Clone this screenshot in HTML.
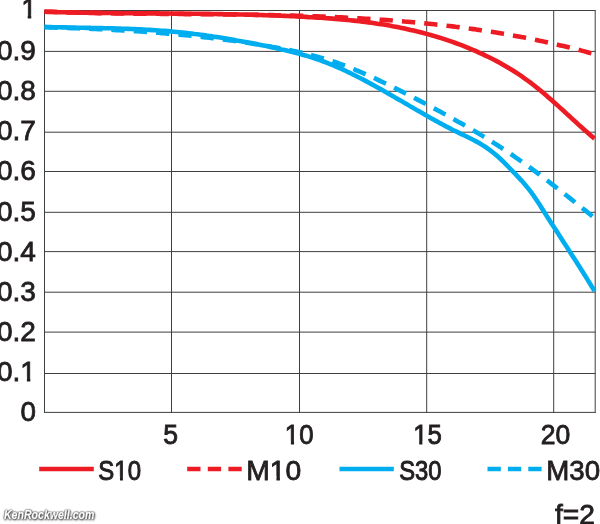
<!DOCTYPE html>
<html><head><meta charset="utf-8"><title>MTF f=2</title>
<style>
html,body{margin:0;padding:0;background:#fff;}
body{width:600px;height:524px;overflow:hidden;position:relative;}
svg{display:block;position:absolute;left:0;top:0;}
text{font-family:"Liberation Sans",sans-serif;font-size:28px;fill:#231f20;stroke:#231f20;}
.wm{position:absolute;left:3.5px;top:507px;font:italic bold 12.8px/16px "Liberation Sans",sans-serif;color:#fff;transform-origin:0 0;transform:scaleX(0.825);-webkit-text-stroke:0.3px #fff;
text-shadow:0 0 1px #222,0 0 1px #333,0 0 1.5px #444,0 0 2px #555,0.6px 0.8px 2px #555,1px 1px 3px #888;white-space:nowrap;}
</style></head><body>
<svg width="600" height="524" viewBox="0 0 600 524">
<defs><clipPath id="nofoot"><path d="M-5 -30H20V-3.2H10V2H6.55V-3.2H-5Z"/></clipPath></defs>
<g stroke="#3f3f3f" stroke-width="1" fill="none">
<line x1="44" y1="10.5" x2="595.5" y2="10.5"/>
<line x1="44" y1="51.4" x2="595.5" y2="51.4"/>
<line x1="44" y1="91.3" x2="595.5" y2="91.3"/>
<line x1="44" y1="132.2" x2="595.5" y2="132.2"/>
<line x1="44" y1="171.5" x2="595.5" y2="171.5"/>
<line x1="44" y1="212.3" x2="595.5" y2="212.3"/>
<line x1="44" y1="251.6" x2="595.5" y2="251.6"/>
<line x1="44" y1="292.2" x2="595.5" y2="292.2"/>
<line x1="44" y1="332.1" x2="595.5" y2="332.1"/>
<line x1="44" y1="373.5" x2="595.5" y2="373.5"/>
<line x1="44" y1="412.4" x2="595.5" y2="412.4"/>
<line x1="44.5" y1="10" x2="44.5" y2="413"/>
<line x1="171.5" y1="10" x2="171.5" y2="413"/>
<line x1="299.5" y1="10" x2="299.5" y2="413"/>
<line x1="426.7" y1="10" x2="426.7" y2="413"/>
<line x1="553.7" y1="10" x2="553.7" y2="413"/>
<line x1="595.2" y1="10" x2="595.2" y2="413"/>
</g>
<g fill="none" stroke-width="4.6" stroke-linejoin="round">
<path stroke="#00aeef" stroke-dasharray="13.3 9.08" stroke-dashoffset="0.15" d="M44.5 27.3 L47.5 27.3 L50.5 27.4 L53.5 27.5 L56.5 27.6 L59.5 27.7 L62.5 27.8 L65.5 27.9 L68.5 28.0 L71.5 28.1 L74.5 28.2 L77.5 28.3 L80.5 28.4 L83.5 28.5 L86.5 28.6 L89.5 28.8 L92.5 28.9 L95.5 29.0 L98.5 29.2 L101.5 29.3 L104.5 29.4 L107.5 29.6 L110.5 29.7 L113.5 29.9 L116.5 30.1 L119.5 30.2 L122.5 30.4 L125.5 30.6 L128.5 30.8 L131.5 30.9 L134.5 31.1 L137.5 31.3 L140.5 31.5 L143.5 31.7 L146.5 31.9 L149.5 32.2 L152.5 32.4 L155.5 32.6 L158.5 32.8 L161.5 33.1 L164.5 33.3 L167.5 33.6 L170.5 33.8 L173.5 34.1 L176.5 34.4 L179.5 34.6 L182.5 34.9 L185.5 35.2 L188.5 35.5 L191.5 35.8 L194.5 36.1 L197.5 36.4 L200.5 36.7 L203.5 37.1 L206.5 37.4 L209.5 37.8 L212.5 38.1 L215.5 38.5 L218.5 38.8 L221.5 39.2 L224.5 39.6 L227.5 40.0 L230.5 40.4 L233.5 40.8 L236.5 41.2 L239.5 41.6 L242.5 42.1 L245.5 42.5 L248.5 42.9 L251.5 43.4 L254.5 43.9 L257.5 44.3 L260.5 44.8 L263.5 45.3 L266.5 45.8 L269.5 46.3 L272.5 46.9 L275.5 47.4 L278.5 47.9 L281.5 48.5 L284.5 49.1 L287.5 49.7 L290.5 50.3 L293.5 50.9 L296.5 51.6 L299.5 52.2 L302.5 52.9 L305.5 53.6 L308.5 54.4 L311.5 55.1 L314.5 55.9 L317.5 56.7 L320.5 57.6 L323.5 58.5 L326.5 59.4 L329.5 60.3 L332.5 61.3 L335.5 62.3 L338.5 63.3 L341.5 64.4 L344.5 65.5 L347.5 66.6 L350.5 67.8 L353.5 69.0 L356.5 70.3 L359.5 71.5 L362.5 72.8 L365.5 74.1 L368.5 75.5 L371.5 76.8 L374.5 78.2 L377.5 79.6 L380.5 81.1 L383.5 82.5 L386.5 83.9 L389.5 85.4 L392.5 86.9 L395.5 88.4 L398.5 89.9 L401.5 91.4 L404.5 92.9 L407.5 94.4 L410.5 96.0 L413.5 97.5 L416.5 99.1 L419.5 100.6 L422.5 102.2 L425.5 103.8 L428.5 105.4 L431.5 107.0 L434.5 108.6 L437.5 110.2 L440.5 111.8 L443.5 113.5 L446.5 115.1 L449.5 116.8 L452.5 118.5 L455.5 120.2 L458.5 121.9 L461.5 123.6 L464.5 125.3 L467.5 127.0 L470.5 128.8 L473.5 130.5 L476.5 132.3 L479.5 134.1 L482.5 135.9 L485.5 137.8 L488.5 139.6 L491.5 141.5 L494.5 143.4 L497.5 145.3 L500.5 147.2 L503.5 149.2 L506.5 151.2 L509.5 153.2 L512.5 155.2 L515.5 157.3 L518.5 159.3 L521.5 161.5 L524.5 163.6 L527.5 165.8 L530.5 167.9 L533.5 170.1 L536.5 172.4 L539.5 174.6 L542.5 176.9 L545.5 179.2 L548.5 181.5 L551.5 183.8 L554.5 186.1 L557.5 188.5 L560.5 190.8 L563.5 193.2 L566.5 195.5 L569.5 197.9 L572.5 200.3 L575.5 202.7 L578.5 205.1 L581.5 207.5 L584.5 209.9 L587.5 212.3 L590.5 214.7 L593.5 217.1 L594.5 217.9"/>
<path stroke="#00aeef" d="M44.5 26.9 L47.5 27.0 L50.5 27.1 L53.5 27.2 L56.5 27.2 L59.5 27.3 L62.5 27.4 L65.5 27.4 L68.5 27.5 L71.5 27.6 L74.5 27.6 L77.5 27.7 L80.5 27.7 L83.5 27.8 L86.5 27.9 L89.5 27.9 L92.5 28.0 L95.5 28.0 L98.5 28.1 L101.5 28.1 L104.5 28.2 L107.5 28.3 L110.5 28.3 L113.5 28.4 L116.5 28.5 L119.5 28.6 L122.5 28.7 L125.5 28.8 L128.5 28.9 L131.5 29.0 L134.5 29.1 L137.5 29.3 L140.5 29.4 L143.5 29.5 L146.5 29.7 L149.5 29.9 L152.5 30.1 L155.5 30.3 L158.5 30.5 L161.5 30.7 L164.5 30.9 L167.5 31.1 L170.5 31.4 L173.5 31.7 L176.5 32.0 L179.5 32.3 L182.5 32.6 L185.5 32.9 L188.5 33.2 L191.5 33.6 L194.5 34.0 L197.5 34.3 L200.5 34.7 L203.5 35.1 L206.5 35.6 L209.5 36.0 L212.5 36.4 L215.5 36.9 L218.5 37.3 L221.5 37.8 L224.5 38.3 L227.5 38.8 L230.5 39.3 L233.5 39.8 L236.5 40.4 L239.5 40.9 L242.5 41.4 L245.5 42.0 L248.5 42.6 L251.5 43.1 L254.5 43.7 L257.5 44.3 L260.5 44.9 L263.5 45.5 L266.5 46.1 L269.5 46.7 L272.5 47.4 L275.5 48.0 L278.5 48.7 L281.5 49.4 L284.5 50.0 L287.5 50.8 L290.5 51.5 L293.5 52.2 L296.5 53.0 L299.5 53.8 L302.5 54.7 L305.5 55.5 L308.5 56.4 L311.5 57.4 L314.5 58.3 L317.5 59.4 L320.5 60.4 L323.5 61.5 L326.5 62.6 L329.5 63.8 L332.5 65.0 L335.5 66.3 L338.5 67.6 L341.5 69.0 L344.5 70.3 L347.5 71.8 L350.5 73.2 L353.5 74.7 L356.5 76.2 L359.5 77.7 L362.5 79.3 L365.5 80.9 L368.5 82.5 L371.5 84.1 L374.5 85.7 L377.5 87.4 L380.5 89.1 L383.5 90.8 L386.5 92.5 L389.5 94.2 L392.5 95.9 L395.5 97.7 L398.5 99.4 L401.5 101.1 L404.5 102.9 L407.5 104.6 L410.5 106.4 L413.5 108.1 L416.5 109.9 L419.5 111.6 L422.5 113.3 L425.5 115.0 L428.5 116.7 L431.5 118.4 L434.5 120.1 L437.5 121.7 L440.5 123.4 L443.5 125.0 L446.5 126.6 L449.5 128.1 L452.5 129.7 L455.5 131.2 L458.5 132.6 L461.5 134.1 L464.5 135.5 L467.5 137.0 L470.5 138.5 L473.5 140.0 L476.5 141.6 L479.5 143.3 L482.5 145.1 L485.5 147.0 L488.5 149.1 L491.5 151.3 L494.5 153.7 L497.5 156.3 L500.5 159.0 L503.5 161.9 L506.5 164.9 L509.5 168.0 L512.5 171.1 L515.5 174.2 L518.5 177.4 L521.5 180.6 L524.5 184.0 L527.5 187.6 L530.5 191.4 L533.5 195.5 L536.5 200.0 L539.5 204.6 L542.5 209.3 L545.5 214.1 L548.5 218.8 L551.5 223.4 L554.5 228.0 L557.5 232.6 L560.5 237.2 L563.5 241.9 L566.5 246.5 L569.5 251.2 L572.5 255.9 L575.5 260.6 L578.5 265.3 L581.5 270.0 L584.5 274.8 L587.5 279.6 L590.5 284.5 L593.5 289.4 L594.5 291.0"/>
<path stroke="#ed1c24" stroke-dasharray="13.3 9.1" stroke-dashoffset="0.75" d="M44.5 11.6 L47.5 11.7 L50.5 11.8 L53.5 11.9 L56.5 12.0 L59.5 12.1 L62.5 12.2 L65.5 12.3 L68.5 12.4 L71.5 12.4 L74.5 12.5 L77.5 12.6 L80.5 12.7 L83.5 12.8 L86.5 12.8 L89.5 12.9 L92.5 12.9 L95.5 13.0 L98.5 13.1 L101.5 13.1 L104.5 13.2 L107.5 13.2 L110.5 13.3 L113.5 13.3 L116.5 13.4 L119.5 13.4 L122.5 13.5 L125.5 13.5 L128.5 13.5 L131.5 13.6 L134.5 13.6 L137.5 13.6 L140.5 13.7 L143.5 13.7 L146.5 13.7 L149.5 13.8 L152.5 13.8 L155.5 13.8 L158.5 13.8 L161.5 13.9 L164.5 13.9 L167.5 13.9 L170.5 13.9 L173.5 14.0 L176.5 14.0 L179.5 14.0 L182.5 14.0 L185.5 14.1 L188.5 14.1 L191.5 14.1 L194.5 14.1 L197.5 14.2 L200.5 14.2 L203.5 14.2 L206.5 14.2 L209.5 14.3 L212.5 14.3 L215.5 14.3 L218.5 14.4 L221.5 14.4 L224.5 14.4 L227.5 14.5 L230.5 14.5 L233.5 14.5 L236.5 14.6 L239.5 14.6 L242.5 14.6 L245.5 14.7 L248.5 14.7 L251.5 14.8 L254.5 14.8 L257.5 14.9 L260.5 14.9 L263.5 15.0 L266.5 15.0 L269.5 15.1 L272.5 15.1 L275.5 15.2 L278.5 15.3 L281.5 15.3 L284.5 15.4 L287.5 15.5 L290.5 15.6 L293.5 15.6 L296.5 15.7 L299.5 15.8 L302.5 15.9 L305.5 16.0 L308.5 16.1 L311.5 16.2 L314.5 16.3 L317.5 16.4 L320.5 16.5 L323.5 16.6 L326.5 16.7 L329.5 16.9 L332.5 17.0 L335.5 17.1 L338.5 17.3 L341.5 17.4 L344.5 17.5 L347.5 17.7 L350.5 17.8 L353.5 18.0 L356.5 18.2 L359.5 18.3 L362.5 18.5 L365.5 18.7 L368.5 18.9 L371.5 19.1 L374.5 19.2 L377.5 19.4 L380.5 19.7 L383.5 19.9 L386.5 20.1 L389.5 20.3 L392.5 20.5 L395.5 20.8 L398.5 21.0 L401.5 21.2 L404.5 21.5 L407.5 21.7 L410.5 22.0 L413.5 22.3 L416.5 22.5 L419.5 22.8 L422.5 23.1 L425.5 23.4 L428.5 23.7 L431.5 24.0 L434.5 24.3 L437.5 24.7 L440.5 25.0 L443.5 25.3 L446.5 25.7 L449.5 26.0 L452.5 26.4 L455.5 26.8 L458.5 27.1 L461.5 27.5 L464.5 27.9 L467.5 28.3 L470.5 28.7 L473.5 29.1 L476.5 29.6 L479.5 30.0 L482.5 30.5 L485.5 30.9 L488.5 31.4 L491.5 31.8 L494.5 32.3 L497.5 32.8 L500.5 33.3 L503.5 33.8 L506.5 34.3 L509.5 34.8 L512.5 35.4 L515.5 35.9 L518.5 36.5 L521.5 37.1 L524.5 37.6 L527.5 38.2 L530.5 38.8 L533.5 39.4 L536.5 40.0 L539.5 40.7 L542.5 41.3 L545.5 41.9 L548.5 42.6 L551.5 43.3 L554.5 44.0 L557.5 44.7 L560.5 45.4 L563.5 46.1 L566.5 46.8 L569.5 47.5 L572.5 48.3 L575.5 49.1 L578.5 49.8 L581.5 50.6 L584.5 51.4 L587.5 52.2 L590.5 53.1 L593.5 53.9 L594.5 54.2"/>
<path stroke="#ed1c24" d="M44.5 11.8 L47.5 11.9 L50.5 11.9 L53.5 12.0 L56.5 12.1 L59.5 12.2 L62.5 12.3 L65.5 12.3 L68.5 12.4 L71.5 12.5 L74.5 12.5 L77.5 12.6 L80.5 12.6 L83.5 12.7 L86.5 12.7 L89.5 12.8 L92.5 12.8 L95.5 12.9 L98.5 12.9 L101.5 12.9 L104.5 13.0 L107.5 13.0 L110.5 13.0 L113.5 13.1 L116.5 13.1 L119.5 13.1 L122.5 13.2 L125.5 13.2 L128.5 13.2 L131.5 13.2 L134.5 13.3 L137.5 13.3 L140.5 13.3 L143.5 13.3 L146.5 13.4 L149.5 13.4 L152.5 13.4 L155.5 13.4 L158.5 13.4 L161.5 13.5 L164.5 13.5 L167.5 13.5 L170.5 13.5 L173.5 13.6 L176.5 13.6 L179.5 13.6 L182.5 13.6 L185.5 13.7 L188.5 13.7 L191.5 13.7 L194.5 13.8 L197.5 13.8 L200.5 13.8 L203.5 13.9 L206.5 13.9 L209.5 13.9 L212.5 14.0 L215.5 14.0 L218.5 14.1 L221.5 14.1 L224.5 14.2 L227.5 14.2 L230.5 14.3 L233.5 14.4 L236.5 14.4 L239.5 14.5 L242.5 14.5 L245.5 14.6 L248.5 14.7 L251.5 14.8 L254.5 14.9 L257.5 14.9 L260.5 15.0 L263.5 15.1 L266.5 15.2 L269.5 15.3 L272.5 15.4 L275.5 15.5 L278.5 15.6 L281.5 15.8 L284.5 15.9 L287.5 16.0 L290.5 16.1 L293.5 16.3 L296.5 16.4 L299.5 16.6 L302.5 16.7 L305.5 16.9 L308.5 17.1 L311.5 17.2 L314.5 17.4 L317.5 17.6 L320.5 17.8 L323.5 18.0 L326.5 18.2 L329.5 18.4 L332.5 18.6 L335.5 18.9 L338.5 19.1 L341.5 19.4 L344.5 19.7 L347.5 20.0 L350.5 20.3 L353.5 20.6 L356.5 20.9 L359.5 21.3 L362.5 21.6 L365.5 22.0 L368.5 22.4 L371.5 22.8 L374.5 23.2 L377.5 23.7 L380.5 24.1 L383.5 24.6 L386.5 25.1 L389.5 25.6 L392.5 26.2 L395.5 26.7 L398.5 27.3 L401.5 27.9 L404.5 28.5 L407.5 29.2 L410.5 29.9 L413.5 30.5 L416.5 31.3 L419.5 32.0 L422.5 32.8 L425.5 33.6 L428.5 34.4 L431.5 35.2 L434.5 36.1 L437.5 37.0 L440.5 37.9 L443.5 38.9 L446.5 39.9 L449.5 40.9 L452.5 41.9 L455.5 43.0 L458.5 44.1 L461.5 45.2 L464.5 46.4 L467.5 47.6 L470.5 48.9 L473.5 50.1 L476.5 51.4 L479.5 52.8 L482.5 54.1 L485.5 55.6 L488.5 57.0 L491.5 58.5 L494.5 60.0 L497.5 61.6 L500.5 63.3 L503.5 65.0 L506.5 66.7 L509.5 68.5 L512.5 70.3 L515.5 72.2 L518.5 74.2 L521.5 76.2 L524.5 78.3 L527.5 80.5 L530.5 82.7 L533.5 85.0 L536.5 87.3 L539.5 89.7 L542.5 92.2 L545.5 94.8 L548.5 97.4 L551.5 100.0 L554.5 102.7 L557.5 105.4 L560.5 108.1 L563.5 110.8 L566.5 113.6 L569.5 116.3 L572.5 119.1 L575.5 121.8 L578.5 124.6 L581.5 127.3 L584.5 130.0 L587.5 132.6 L590.5 135.2 L593.5 137.8 L594.5 138.6"/>
</g><g fill="none" stroke-width="4.6">
<path stroke="#ed1c24" d="M39.2 469H93.8"/>
<path stroke="#ed1c24" stroke-dasharray="13.3 7.3" d="M187.2 469H241.8"/>
<path stroke="#00aeef" d="M339.5 469H393.8"/>
<path stroke="#00aeef" stroke-dasharray="13.3 7.1" d="M487.5 469H542"/>
</g>
<text transform="translate(21.20,18.3) scale(1.0000,1)" stroke-width="0.80" clip-path="url(#nofoot)">1</text>
<text transform="translate(-3.00,59.8) scale(1.0000,1)" stroke-width="0.80">0.9</text>
<text transform="translate(-3.00,99.5) scale(1.0000,1)" stroke-width="0.80">0.8</text>
<text transform="translate(-3.00,139.9) scale(1.0000,1)" stroke-width="0.80">0.7</text>
<text transform="translate(-3.00,180.3) scale(1.0000,1)" stroke-width="0.80">0.6</text>
<text transform="translate(-3.00,220.6) scale(1.0000,1)" stroke-width="0.80">0.5</text>
<text transform="translate(-3.00,260.6) scale(1.0000,1)" stroke-width="0.80">0.4</text>
<text transform="translate(-3.00,300.6) scale(1.0000,1)" stroke-width="0.80">0.3</text>
<text transform="translate(-3.00,340.6) scale(1.0000,1)" stroke-width="0.80">0.2</text>
<text transform="translate(-3.00,380.7) scale(1.0000,1)" stroke-width="0.80">0.1</text>
<text transform="translate(20.41,420.7) scale(0.9929,1)" stroke-width="0.81">0</text>
<text transform="translate(163.25,444.2) scale(0.9500,1)" stroke-width="0.87">5</text>
<text transform="translate(284.86,444.2) scale(0.9214,1)" stroke-width="0.90">10</text>
<text transform="translate(413.16,444.2) scale(0.9214,1)" stroke-width="0.90">15</text>
<text transform="translate(540.75,444.2) scale(0.9483,1)" stroke-width="0.87">20</text>
<text transform="translate(98.34,479.5) scale(0.8563,1)" stroke-width="0.99">S10</text>
<text transform="translate(246.28,479.5) scale(1.0096,1)" stroke-width="0.80">M10</text>
<text transform="translate(399.15,479.5) scale(0.8500,1)" stroke-width="1.00">S30</text>
<text transform="translate(546.32,479.5) scale(0.9885,1)" stroke-width="0.81">M30</text>
<text transform="translate(555.00,523.7) scale(1.0051,1)" stroke-width="0.80">f=2</text>
<path fill="#fff" transform="translate(-3.00,380.7) scale(1.0000,1)" d="M23.95 -3.3h5.95v5.3h-5.95zM33.35 -3.3h5.4v5.3h-5.4z"/>
<path fill="#fff" transform="translate(284.86,444.2) scale(0.9214,1)" d="M0.60 -3.3h5.95v5.3h-5.95zM10.00 -3.3h5.4v5.3h-5.4z"/>
<path fill="#fff" transform="translate(413.16,444.2) scale(0.9214,1)" d="M0.60 -3.3h5.95v5.3h-5.95zM10.00 -3.3h5.4v5.3h-5.4z"/>
<path fill="#fff" transform="translate(98.34,479.5) scale(0.8563,1)" d="M19.28 -3.3h5.95v5.3h-5.95zM28.68 -3.3h5.4v5.3h-5.4z"/>
<path fill="#fff" transform="translate(246.28,479.5) scale(1.0096,1)" d="M23.92 -3.3h5.95v5.3h-5.95zM33.32 -3.3h5.4v5.3h-5.4z"/>
</svg>
<div class="wm">KenRockwell.com</div>
</body></html>
